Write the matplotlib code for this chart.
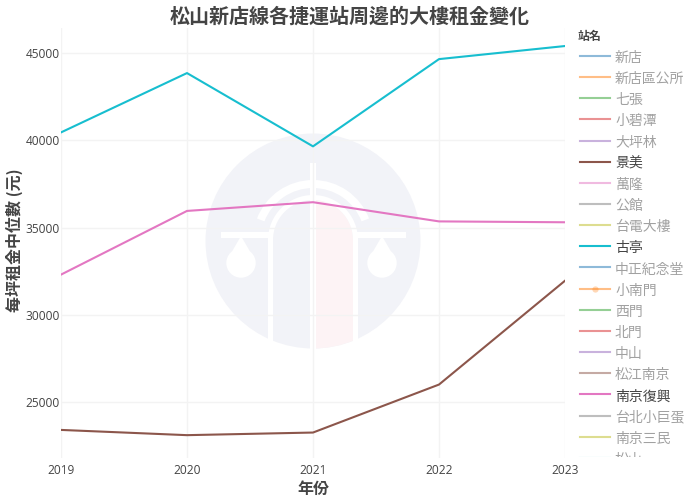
import matplotlib.pyplot as plt
from matplotlib import font_manager
from matplotlib.patches import Circle, Wedge, Rectangle, Polygon

# 只有部分字型名稱會被 matplotlib 註冊,取第一個有的
names = {f.name for f in font_manager.fontManager.ttflist}
CJK = [n for n in ['Noto Sans CJK TC', 'Noto Sans CJK JP', 'Noto Sans CJK SC', 'Noto Sans CJK KR'] if n in names]
plt.rcParams['font.family'] = ['Open Sans'] + CJK
TEXT = '#444444'
W, H = 700, 500

# 資料
years = [2019, 2020, 2021, 2022, 2023]
y_ticks = [25000, 30000, 35000, 40000, 45000]
guting = [40450, 43850, 39650, 44650, 45400]
nanjing_fuxing = [32300, 35950, 36450, 35350, 35300]
jingmei = [23400, 23100, 23250, 26000, 31950]

stations = ['新店', '新店區公所', '七張', '小碧潭', '大坪林', '景美', '萬隆', '公館', '台電大樓', '古亭',
            '中正紀念堂', '小南門', '西門', '北門', '中山', '松江南京', '南京復興', '台北小巨蛋', '南京三民', '松山']
active = ['景美', '古亭', '南京復興']
colors = ['#1f77b4', '#ff7f0e', '#2ca02c', '#d62728', '#9467bd', '#8c564b', '#e377c2', '#7f7f7f', '#bcbd22', '#17becf']


def px_axes(left, top, right, bottom, zorder):
    a = fig.add_axes([left / W, 1 - bottom / H, (right - left) / W, (bottom - top) / H], zorder=zorder)
    a.set_xlim(left, right)
    a.set_ylim(bottom, top)
    a.axis('off')
    return a


fig = plt.figure(figsize=(W / 100, H / 100), dpi=100)

# 背景浮水印
bg = px_axes(0, 0, W, H, 0)
logo = Circle((313, 241), 107.5, fc='#f2f3f8', ec='none')
bg.add_patch(logo)
door = [Wedge((313, 240), 40, 270, 360, fc='#fdf3f5', ec='none'),
        Rectangle((313, 240), 40, 115, fc='#fdf3f5', ec='none')]
for d in door:
    bg.add_patch(d)
    d.set_clip_path(logo)
bg.add_patch(Wedge((313, 240), 60, 201, 339, width=8, fc='white', ec='none'))
bg.add_patch(Wedge((313, 240), 45, 180, 360, width=5, fc='white', ec='none'))
bg.add_patch(Rectangle((221, 232), 52, 6, fc='white', ec='none'))
bg.add_patch(Rectangle((353, 232), 53, 6, fc='white', ec='none'))
bg.add_patch(Rectangle((268, 238), 5, 115, fc='white', ec='none'))
bg.add_patch(Rectangle((353, 238), 5, 115, fc='white', ec='none'))
bg.add_patch(Rectangle((310, 163), 6, 190, fc='white', ec='none'))
for cx in [241, 382]:
    bg.add_patch(Circle((cx, 263), 14.7, fc='white', ec='none'))
    bg.add_patch(Polygon([(cx, 236), (cx - 14.5, 261), (cx + 14.5, 261)], fc='white', ec='none'))

# 主圖
ax = fig.add_axes([61 / W, 1 - 458 / H, 504 / W, 430 / H], zorder=1)
ax.patch.set_alpha(0)
ax.plot(years, guting, color=colors[9], lw=1.5)
ax.plot(years, nanjing_fuxing, color=colors[6], lw=1.5)
ax.plot(years, jingmei, color=colors[5], lw=1.5)
ax.set_xlim(2019, 2023)
ax.set_ylim(21791, 46433)
ax.set_xticks(years, [str(y) for y in years])
ax.set_yticks(y_ticks, [str(y) for y in y_ticks])
ax.grid(True, color='#f3f3f3', lw=1)
ax.set_axisbelow(True)
ax.tick_params(length=0, labelsize=8.6, labelcolor=TEXT)
ax.tick_params(axis='x', pad=4)
ax.tick_params(axis='y', pad=1)
for s in ax.spines.values():
    s.set_visible(False)
ax.set_xlabel('年份', family=CJK, fontsize=11.5, fontweight='bold', color=TEXT, va='center')
ax.set_ylabel('每坪租金中位數 (元)', family=CJK, fontsize=11.5, fontweight='bold', color=TEXT, va='center')
ax.xaxis.set_label_coords(313 / W, 1 - 489 / H, transform=fig.transFigure)
ax.yaxis.set_label_coords(14 / W, 1 - 240 / H, transform=fig.transFigure)

fig.text(0.5, 1 - 16 / H, '松山新店線各捷運站周邊的大樓租金變化', family=CJK, fontsize=14.4,
         fontweight='bold', color=TEXT, ha='center', va='center')

# 圖例(底部被裁切)
leg = px_axes(570, 20, W, 457, 2)
leg.text(578, 36, '站名', family=CJK, fontsize=8.6, fontweight='bold', color=TEXT, va='center', clip_on=True)
for i, name in enumerate(stations):
    y = 56 + 21.15 * i
    on = name in active
    a = 1 if on else 0.5
    c = colors[i % len(colors)]
    leg.plot([580, 610], [y, y], color=c, lw=1.5, alpha=a, clip_on=True)
    if name == '小南門':
        leg.plot([595], [y], 'o', color=c, ms=4.5, alpha=0.3, mec='none')
    leg.text(615, y + 2, name, family=CJK, fontsize=10, color=TEXT, alpha=a, va='center', clip_on=True)

fig.savefig('out.png', dpi=100)
